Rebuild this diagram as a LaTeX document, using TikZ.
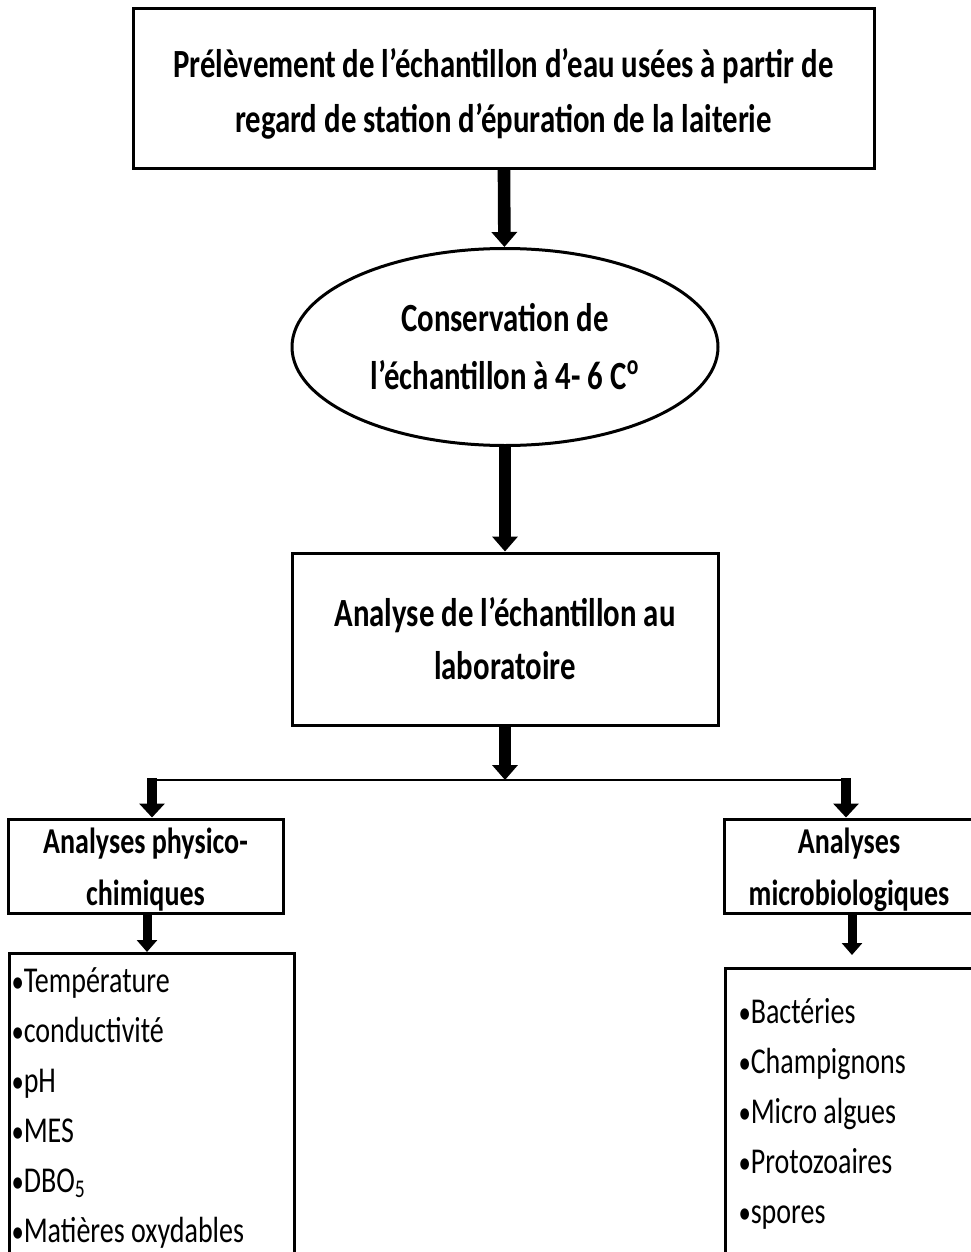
\documentclass[tikz,border=0pt]{standalone}
\usepackage{fontspec}
\setmainfont{Carlito}[FakeStretch=0.77]
\usetikzlibrary{arrows.meta,shapes.geometric}
\newcommand{\bul}{{\fontsize{16}{16}\selectfont •}}

\tikzset{
	box/.style={draw, line width=1.5pt, inner sep=0pt, align=center},
	bigarrow/.style={line width=6.3pt, -{Triangle[width=12.5pt,length=7.5pt]}},
	midarrow/.style={line width=5pt, -{Triangle[width=12.5pt,length=7pt]}},
	tinyarrow/.style={line width=4.5pt, -{Triangle[width=10pt,length=6pt]}},
	listbox/.style={draw, line width=1.5pt, inner ysep=0pt, align=flush left, anchor=north west,
		font=\fontsize{18.2}{25}\selectfont}
}

\begin{document}
\begin{tikzpicture}[x=0.5pt, y=-0.5pt]
				\useasboundingbox (0,0) rectangle (970,1252);
				
				% main chain
				\node[box, minimum width=370.5pt, text height=62pt, text depth=17.5pt,
					font=\bfseries\fontsize{20}{27.5}\selectfont] (sample) at (503.5,88.5)
					{Prélèvement de l’échantillon d’eau usées à partir de\\regard de station d’épuration de la laiterie};
				\node[box, ellipse, minimum width=213pt, minimum height=98.5pt,
					font=\bfseries\fontsize{20}{29}\selectfont] (keep) at (505,347)
					{Conservation de\\l’échantillon à 4- 6 C\textsuperscript{o}};
				\node[box, minimum width=213pt, minimum height=86pt,
					font=\bfseries\fontsize{20}{26.5}\selectfont] (lab) at (505,639)
					{Analyse de l’échantillon au\\laboratoire};
				
				\draw[bigarrow] (sample) -- (keep);
				\draw[bigarrow] (keep) -- (lab);
				
				% fork
				\coordinate (fork) at (505,780);
				\coordinate (forkL) at (152,780);
				\coordinate (forkR) at (846,780);
				\draw[bigarrow] (lab.south) -- (fork);
				\draw[line width=1pt] (forkL) -- (forkR);
				
				% two branches
				\node[box, minimum width=137.5pt, text height=43pt, text depth=4pt,
					font=\bfseries\fontsize{18.2}{26}\selectfont] (phys) at (145.5,866)
					{Analyses physico-\\chimiques};
				\node[box, minimum width=125pt, text height=43pt, text depth=4pt,
					font=\bfseries\fontsize{18.2}{26}\selectfont] (micro) at (849,866)
					{Analyses\\microbiologiques};
				
				\draw[midarrow] ([yshift=1pt]forkL) -- (forkL |- phys.north);
				\draw[midarrow] ([yshift=1pt]forkR) -- (forkR |- micro.north);
				
				% lists
				\node[listbox, inner xsep=1pt, text width=140.5pt, text height=19.5pt, text depth=139.5pt]
					(physlist) at (8,952)
					{\bul Température\\\bul conductivité\\\bul pH\\\bul MES\\\bul DBO\textsubscript{5}\\\bul Matières oxydables};
				\node[listbox, inner xsep=6.5pt, text width=120pt, text height=27.5pt, text depth=124pt]
					(microlist) at (724,967)
					{\bul Bactéries\\\bul Champignons\\\bul Micro algues\\\bul Protozoaires\\\bul spores};
				
				\draw[tinyarrow] ([xshift=0.75pt]phys.south) -- ([xshift=0.75pt]phys.south |- physlist.north);
				\draw[tinyarrow, shorten >=6pt] ([xshift=1.5pt]micro.south) -- ([xshift=1.5pt]micro.south |- microlist.north);
\end{tikzpicture}
\end{document}
